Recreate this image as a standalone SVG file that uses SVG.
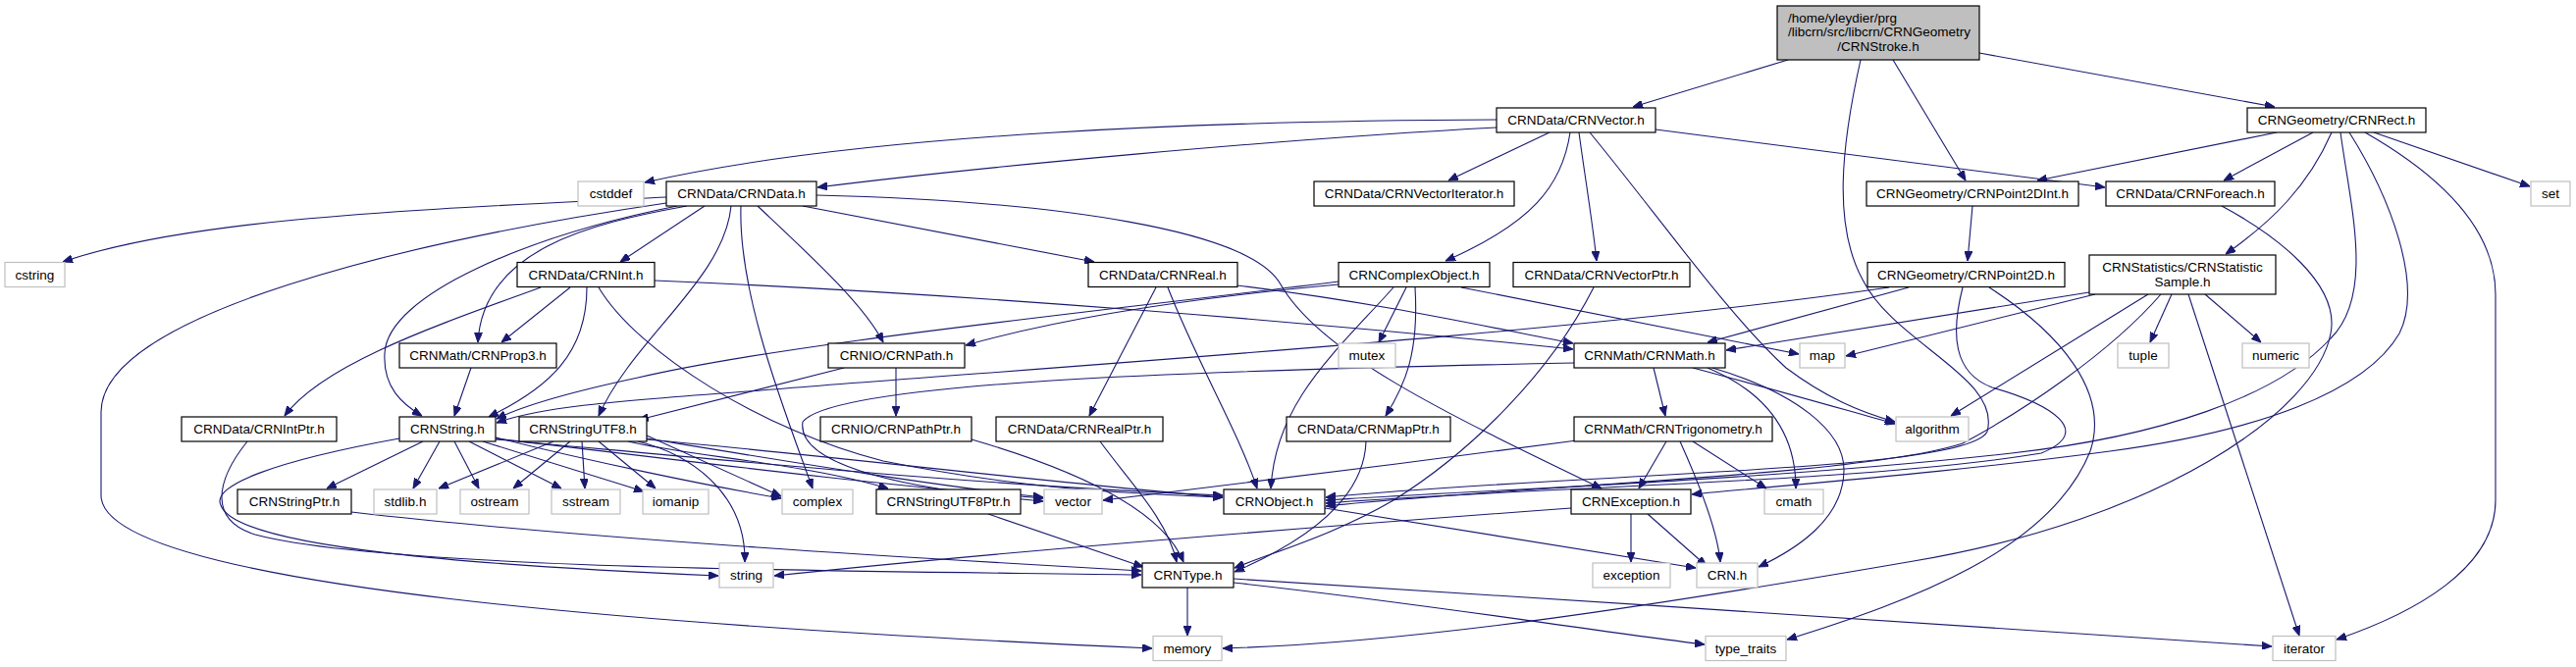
<svg xmlns="http://www.w3.org/2000/svg" width="2625" height="680" viewBox="0 0 2625 680">
<defs>
<marker id="a" markerWidth="10" markerHeight="8" refX="10" refY="4" orient="auto" markerUnits="userSpaceOnUse"><path d="M0,0 L10,4 L0,8 z" fill="#191970" stroke="#191970" stroke-width="1"/></marker>
<style>
.n rect{fill:#fff;stroke:#000;stroke-width:1.2}
.x rect{fill:#fff;stroke:#bfbfbf;stroke-width:1.2}
.r rect{fill:#bfbfbf;stroke:#000;stroke-width:1.2}
text{font-family:"Liberation Sans",Arial,Helvetica,sans-serif;font-size:13.5px;text-anchor:middle;fill:#000}
#edges path{fill:none;stroke:#191970;stroke-width:1.1;marker-end:url(#a)}
</style>
</defs>
<rect width="2625" height="680" fill="#fff"/>
<g id="edges">
<path d="M1822,61 L1664,109"/>
<path d="M1929,61 L2003,184"/>
<path d="M2017,54 L2318,109"/>
<path d="M1896,61 C1876,150 1868,230 1898,285 C1930,350 2040,385 2025,440 C2005,482 1600,482 1351,507"/>
<path d="M1525,122 C1250,123 880,135 657,186"/>
<path d="M1525,130 C1300,142 1000,170 833,191"/>
<path d="M1579,135 L1476,184"/>
<path d="M1600,135 C1592,190 1560,228 1473,266"/>
<path d="M1609,135 C1615,180 1622,220 1627,266"/>
<path d="M1620,135 C1690,220 1760,320 1820,375 C1860,405 1895,420 1931,430"/>
<path d="M1687,132 L2145,191"/>
<path d="M2320,135 L2076,184"/>
<path d="M2357,135 L2266,184"/>
<path d="M2419,135 L2578,190"/>
<path d="M2376,135 C2352,190 2315,226 2268,259"/>
<path d="M2410,135 C2480,175 2543,230 2543,300 L2543,510 C2543,580 2460,625 2381,652"/>
<path d="M2385,135 C2395,210 2420,300 2375,345 C2320,405 2200,445 2050,462 C1800,490 1500,500 1351,510"/>
<path d="M2394,135 C2435,200 2470,290 2445,340 C2410,400 2300,440 2150,460 C2000,480 1850,492 1724,504"/>
<path d="M679,201 C450,213 200,220 64,267"/>
<path d="M679,207 C420,245 103,320 103,420 L103,505 C103,600 700,640 1174,661"/>
<path d="M690,210 C540,240 395,300 392,360 C390,395 410,412 430,424"/>
<path d="M700,210 C600,228 492,255 487,349"/>
<path d="M718,210 L632,267"/>
<path d="M745,210 C738,285 645,345 610,424"/>
<path d="M755,210 C752,300 800,420 828,498"/>
<path d="M772,210 C825,260 880,310 900,349"/>
<path d="M818,210 L1115,267"/>
<path d="M832,199 C1080,205 1275,235 1305,290 C1345,360 1470,420 1632,498"/>
<path d="M551,293 C450,330 330,370 290,424"/>
<path d="M581,293 L511,349"/>
<path d="M598,293 C598,360 560,395 498,425"/>
<path d="M667,286 C1000,300 1350,330 1603,356"/>
<path d="M610,293 C650,360 780,440 900,470 C1050,500 1150,503 1246,507"/>
<path d="M1178,293 L1110,424"/>
<path d="M1190,293 C1220,370 1262,440 1281,498"/>
<path d="M1261,291 C1400,308 1500,330 1603,350"/>
<path d="M1364,290 C1200,305 1080,325 984,352"/>
<path d="M1364,287 C1100,320 800,350 650,385 C580,400 530,415 506,427"/>
<path d="M1433,293 L1405,349"/>
<path d="M1442,293 C1446,360 1432,392 1412,424"/>
<path d="M1420,293 C1360,360 1300,410 1295,498"/>
<path d="M1489,293 L1833,361"/>
<path d="M1624,293 C1580,380 1500,460 1420,510 C1360,545 1300,562 1258,579"/>
<path d="M1392,450 C1390,510 1330,552 1258,583"/>
<path d="M2010,210 L2005,266"/>
<path d="M1945,293 L1740,349"/>
<path d="M1925,293 C1600,340 1100,372 800,396 C650,408 560,412 506,431"/>
<path d="M2027,293 C2100,340 2150,400 2130,460 C2090,560 1950,612 1821,652"/>
<path d="M2000,293 C1988,340 1990,380 2030,395 C2090,412 2135,440 2080,462 C1900,492 1550,497 1351,513"/>
<path d="M2129,298 L1759,357"/>
<path d="M2135,300 L1881,363"/>
<path d="M2189,300 L1988,424"/>
<path d="M2202,300 C2150,360 2060,420 2000,452 C1900,485 1550,495 1351,516"/>
<path d="M2213,300 L2191,349"/>
<path d="M2247,300 L2304,349"/>
<path d="M2230,300 L2343,648"/>
<path d="M480,375 L463,424"/>
<path d="M913,375 L913,424"/>
<path d="M860,375 L651,428"/>
<path d="M1121,450 C1150,490 1190,530 1199,573"/>
<path d="M990,448 C1100,480 1185,520 1206,573"/>
<path d="M252,450 C220,490 212,530 260,545 C400,582 900,582 1163,586"/>
<path d="M358,522 C600,550 950,570 1163,582"/>
<path d="M1007,524 L1165,578"/>
<path d="M431,450 L333,498"/>
<path d="M448,450 L421,498"/>
<path d="M463,450 L488,498"/>
<path d="M478,450 L572,498"/>
<path d="M492,450 L656,501"/>
<path d="M505,446 C600,470 720,495 796,508"/>
<path d="M505,447 C700,470 900,495 1063,508"/>
<path d="M505,448 C750,470 1000,495 1246,505"/>
<path d="M407,447 C280,470 215,495 225,515 C240,560 500,577 732,587"/>
<path d="M564,450 L447,498"/>
<path d="M581,450 L523,498"/>
<path d="M593,450 L596,498"/>
<path d="M610,450 L668,498"/>
<path d="M659,444 L796,506"/>
<path d="M659,447 C800,470 950,495 1063,507"/>
<path d="M659,448 C850,465 1050,490 1246,507"/>
<path d="M640,450 C700,465 820,472 905,498"/>
<path d="M650,450 C700,462 760,500 759,573"/>
<path d="M1685,375 L1697,424"/>
<path d="M1725,375 C1800,395 1870,415 1931,432"/>
<path d="M1745,375 C1830,400 1880,440 1879,480 C1878,530 1830,560 1792,578"/>
<path d="M1740,375 C1800,400 1830,440 1830,498"/>
<path d="M1604,370 C1200,378 850,390 818,430 C812,470 900,497 1063,511"/>
<path d="M1607,449 C1450,470 1250,495 1124,510"/>
<path d="M1698,450 L1670,498"/>
<path d="M1712,450 C1730,490 1750,540 1753,573"/>
<path d="M1725,450 L1800,498"/>
<path d="M1601,518 C1300,540 1000,565 789,587"/>
<path d="M1662,524 L1662,573"/>
<path d="M1679,524 L1739,577"/>
<path d="M1350,518 L1728,579"/>
<path d="M1210,599 L1210,648"/>
<path d="M1257,594 C1450,615 1600,640 1737,657"/>
<path d="M1257,590 C1600,610 2000,640 2315,659"/>
<path d="M2264,210 C2320,240 2385,290 2375,340 C2360,420 2200,530 1950,572 C1700,615 1450,655 1246,661"/>
</g>
<g id="n_root" class="r"><rect x="1811" y="6" width="206" height="55"/><text x="1822" y="23" style="text-anchor:start">/home/yleydier/prg</text><text x="1822" y="37" style="text-anchor:start">/libcrn/src/libcrn/CRNGeometry</text><text x="1914" y="52">/CRNStroke.h</text></g>
<g id="n_vector" class="n"><rect x="1525" y="110" width="162" height="25"/><text x="1606" y="127.2">CRNData/CRNVector.h</text></g>
<g id="n_rect" class="n"><rect x="2290" y="110" width="182" height="25"/><text x="2381" y="127.2">CRNGeometry/CRNRect.h</text></g>
<g id="n_data" class="n"><rect x="679" y="185" width="153" height="25"/><text x="755.5" y="202.2">CRNData/CRNData.h</text></g>
<g id="n_cstddef" class="x"><rect x="589" y="185" width="67" height="25"/><text x="622.5" y="202.2">cstddef</text></g>
<g id="n_vectoriterator" class="n"><rect x="1339" y="185" width="204" height="25"/><text x="1441" y="202.2">CRNData/CRNVectorIterator.h</text></g>
<g id="n_point2dint" class="n"><rect x="1902" y="185" width="216" height="25"/><text x="2010" y="202.2">CRNGeometry/CRNPoint2DInt.h</text></g>
<g id="n_foreach" class="n"><rect x="2146" y="185" width="172" height="25"/><text x="2232" y="202.2">CRNData/CRNForeach.h</text></g>
<g id="n_set" class="x"><rect x="2579" y="185" width="40" height="25"/><text x="2599" y="202.2">set</text></g>
<g id="n_cstring" class="x"><rect x="5" y="267.5" width="61" height="25"/><text x="35.5" y="284.7">cstring</text></g>
<g id="n_int" class="n"><rect x="527" y="267.5" width="140" height="25"/><text x="597" y="284.7">CRNData/CRNInt.h</text></g>
<g id="n_real" class="n"><rect x="1109" y="267.5" width="152" height="25"/><text x="1185" y="284.7">CRNData/CRNReal.h</text></g>
<g id="n_complexobject" class="n"><rect x="1364" y="267.5" width="154" height="25"/><text x="1441" y="284.7">CRNComplexObject.h</text></g>
<g id="n_vectorptr" class="n"><rect x="1542" y="267.5" width="180" height="25"/><text x="1632" y="284.7">CRNData/CRNVectorPtr.h</text></g>
<g id="n_point2d" class="n"><rect x="1903" y="267.5" width="201" height="25"/><text x="2003.5" y="284.7">CRNGeometry/CRNPoint2D.h</text></g>
<g id="n_statisticsample" class="n"><rect x="2129" y="260" width="190" height="40"/><text x="2224" y="276.5">CRNStatistics/CRNStatistic</text><text x="2224" y="291.5">Sample.h</text></g>
<g id="n_prop3" class="n"><rect x="407" y="350" width="160" height="25"/><text x="487" y="367.2">CRNMath/CRNProp3.h</text></g>
<g id="n_path" class="n"><rect x="844" y="350" width="139" height="25"/><text x="913.5" y="367.2">CRNIO/CRNPath.h</text></g>
<g id="n_mutex" class="x"><rect x="1364" y="350" width="58" height="25"/><text x="1393" y="367.2">mutex</text></g>
<g id="n_math" class="n"><rect x="1604" y="350" width="154" height="25"/><text x="1681" y="367.2">CRNMath/CRNMath.h</text></g>
<g id="n_map" class="x"><rect x="1834" y="350" width="46" height="25"/><text x="1857" y="367.2">map</text></g>
<g id="n_tuple" class="x"><rect x="2158" y="350" width="52" height="25"/><text x="2184" y="367.2">tuple</text></g>
<g id="n_numeric" class="x"><rect x="2285" y="350" width="68" height="25"/><text x="2319" y="367.2">numeric</text></g>
<g id="n_intptr" class="n"><rect x="185" y="425" width="158" height="25"/><text x="264" y="442.2">CRNData/CRNIntPtr.h</text></g>
<g id="n_string" class="n"><rect x="407" y="425" width="98" height="25"/><text x="456" y="442.2">CRNString.h</text></g>
<g id="n_stringutf8" class="n"><rect x="529" y="425" width="130" height="25"/><text x="594" y="442.2">CRNStringUTF8.h</text></g>
<g id="n_pathptr" class="n"><rect x="836" y="425" width="154" height="25"/><text x="913" y="442.2">CRNIO/CRNPathPtr.h</text></g>
<g id="n_realptr" class="n"><rect x="1015" y="425" width="170" height="25"/><text x="1100" y="442.2">CRNData/CRNRealPtr.h</text></g>
<g id="n_mapptr" class="n"><rect x="1311" y="425" width="167" height="25"/><text x="1394.5" y="442.2">CRNData/CRNMapPtr.h</text></g>
<g id="n_trigonometry" class="n"><rect x="1604" y="425" width="202" height="25"/><text x="1705" y="442.2">CRNMath/CRNTrigonometry.h</text></g>
<g id="n_algorithm" class="x"><rect x="1932" y="425" width="74" height="25"/><text x="1969" y="442.2">algorithm</text></g>
<g id="n_stringptr" class="n"><rect x="242" y="499" width="116" height="25"/><text x="300" y="516.2">CRNStringPtr.h</text></g>
<g id="n_stdlib" class="x"><rect x="381" y="499" width="64" height="25"/><text x="413" y="516.2">stdlib.h</text></g>
<g id="n_ostream" class="x"><rect x="469" y="499" width="70" height="25"/><text x="504" y="516.2">ostream</text></g>
<g id="n_sstream" class="x"><rect x="562" y="499" width="70" height="25"/><text x="597" y="516.2">sstream</text></g>
<g id="n_iomanip" class="x"><rect x="655" y="499" width="67" height="25"/><text x="688.5" y="516.2">iomanip</text></g>
<g id="n_complex" class="x"><rect x="797" y="499" width="72" height="25"/><text x="833" y="516.2">complex</text></g>
<g id="n_stringutf8ptr" class="n"><rect x="893" y="499" width="147" height="25"/><text x="966.5" y="516.2">CRNStringUTF8Ptr.h</text></g>
<g id="n_vectorstd" class="x"><rect x="1064" y="499" width="59" height="25"/><text x="1093.5" y="516.2">vector</text></g>
<g id="n_object" class="n"><rect x="1247" y="499" width="103" height="25"/><text x="1298.5" y="516.2">CRNObject.h</text></g>
<g id="n_exception" class="n"><rect x="1601" y="499" width="122" height="25"/><text x="1662" y="516.2">CRNException.h</text></g>
<g id="n_cmath" class="x"><rect x="1798" y="499" width="60" height="25"/><text x="1828" y="516.2">cmath</text></g>
<g id="n_stdstring" class="x"><rect x="733" y="574" width="55" height="25"/><text x="760.5" y="591.2">string</text></g>
<g id="n_type" class="n"><rect x="1164" y="574" width="93" height="25"/><text x="1210.5" y="591.2">CRNType.h</text></g>
<g id="n_stdexception" class="x"><rect x="1623" y="574" width="79" height="25"/><text x="1662.5" y="591.2">exception</text></g>
<g id="n_crn" class="x"><rect x="1729" y="574" width="62" height="25"/><text x="1760" y="591.2">CRN.h</text></g>
<g id="n_memory" class="x"><rect x="1175" y="648.5" width="70" height="25"/><text x="1210" y="665.7">memory</text></g>
<g id="n_type_traits" class="x"><rect x="1738" y="648.5" width="82" height="25"/><text x="1779" y="665.7">type_traits</text></g>
<g id="n_iterator" class="x"><rect x="2316" y="648.5" width="64" height="25"/><text x="2348" y="665.7">iterator</text></g>
</svg>
